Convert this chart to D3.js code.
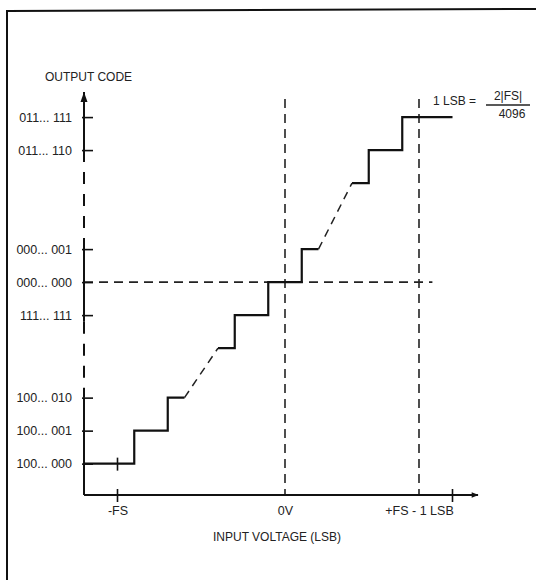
<!DOCTYPE html>
<html>
<head>
<meta charset="utf-8">
<script src="https://cdn.jsdelivr.net/npm/d3@7"></script>
<style>
  body { margin: 0; background: #fff; }
  text { font-family: "Liberation Sans Narrow", "Arial Narrow", "Liberation Sans", sans-serif; fill: #222; }
</style>
</head>
<body>
<div id="chart"></div>
<script>
// output codes on the y axis and their level (in LSB steps, 0 = 000...000)
const codeLabels = ["011... 111", "011... 110", "000... 001", "000... 000", "111... 111", "100... 010", "100... 001", "100... 000"];
const codeLevels = [5, 4, 1, 0, -1, -3.5, -4.5, -5.5];

// input voltage ticks (LSB)
const xTickLabels = ["-FS", "0V", "+FS - 1 LSB"];
const xTickValues = [-5, 0, 4];
const xTickMarks = [-5, 5];

// staircase pieces (transition points, code level after each one)
const lowStepX = [-6, -4.5, -3.5, -3];
const lowStepY = [-5.5, -4.5, -3.5, -3.5];
const midStepX = [-2, -1.5, -0.5, 0.5, 1];
const midStepY = [-2, -1, 0, 1, 1];
const topStepX = [2, 2.5, 3.5, 5];
const topStepY = [3, 4, 5, 5];

const width = 536, height = 580;
const font = '"Liberation Sans Narrow", "Arial Narrow", "Liberation Sans", sans-serif';

const x = d3.scaleLinear().domain([-6, 5]).range([84, 452.5]);
const y = d3.scaleLinear().domain([-6.45, 5.76]).range([495, 92]);

const svg = d3.select("#chart")
  .append("svg")
  .attr("width", width)
  .attr("height", height);

// scanned frame (top + left edge)
svg.append("path")
  .attr("d", "M7,580 L7,11 L536,9")
  .attr("fill", "none")
  .attr("stroke", "#111")
  .attr("stroke-width", 2);

const defs = svg.append("defs");
defs.append("marker")
  .attr("id", "arrow")
  .attr("viewBox", "0 0 10 10")
  .attr("refX", 9).attr("refY", 5)
  .attr("markerWidth", 9).attr("markerHeight", 7)
  .attr("markerUnits", "userSpaceOnUse")
  .attr("orient", "auto")
  .append("path")
  .attr("d", "M0,1 L10,5 L0,9 Z")
  .attr("fill", "#111");

const dash = "9,6";

// guide lines
svg.append("line")
  .attr("x1", x(-6)).attr("x2", x(4.4))
  .attr("y1", y(0)).attr("y2", y(0))
  .attr("stroke", "#222").attr("stroke-width", 1.6).attr("stroke-dasharray", dash);

[0, 4].forEach(v => {
  svg.append("line")
    .attr("x1", x(v)).attr("x2", x(v))
    .attr("y1", y(5.55)).attr("y2", y(-6.45))
    .attr("stroke", "#222").attr("stroke-width", 1.6).attr("stroke-dasharray", dash);
});

// y axis: solid / dashed pieces
const yPieces = [[5.76, 4, false], [4, 1, true], [1, -1.2, false], [-1.2, -3.5, true], [-3.5, -6.45, false]];
yPieces.forEach(([a, b, dashed]) => {
  svg.append("line")
    .attr("x1", x(-6)).attr("x2", x(-6))
    .attr("y1", y(a)).attr("y2", y(b))
    .attr("stroke", "#111").attr("stroke-width", 2)
    .attr("stroke-dasharray", dashed ? "12,10" : null);
});
// y arrow head
svg.append("path")
  .attr("d", `M${x(-6)},${y(5.76)} l-3.5,10 l7,0 Z`)
  .attr("fill", "#111");

// x axis line
svg.append("line")
  .attr("x1", x(-6)).attr("x2", x(5.76))
  .attr("y1", y(-6.45)).attr("y2", y(-6.45))
  .attr("stroke", "#111").attr("stroke-width", 2)
  .attr("marker-end", "url(#arrow)");

// y ticks + labels
const yAxis = d3.axisLeft(y)
  .tickValues(codeLevels)
  .tickFormat((d, i) => codeLabels[i])
  .tickSizeInner(-9)
  .tickSizeOuter(0)
  .tickPadding(12);

const gy = svg.append("g")
  .attr("transform", `translate(${x(-6)},0)`)
  .call(yAxis);
gy.select(".domain").remove();
gy.selectAll(".tick line").attr("stroke", "#111").attr("stroke-width", 1.6).attr("x1", -2);
gy.selectAll(".tick text")
  .attr("font-size", 12.5)
  .attr("fill", "#222")
  .style("font-family", font);

// x labels
const xAxis = d3.axisBottom(x)
  .tickValues(xTickValues)
  .tickFormat((d, i) => xTickLabels[i])
  .tickSize(0)
  .tickPadding(11);

const gx = svg.append("g")
  .attr("transform", `translate(0,${y(-6.45)})`)
  .call(xAxis);
gx.select(".domain").remove();
gx.selectAll(".tick text")
  .attr("font-size", 12.5)
  .attr("fill", "#222")
  .style("font-family", font);

// x tick marks crossing the axis
svg.selectAll(".xmark")
  .data(xTickMarks)
  .join("line")
  .attr("x1", d => x(d)).attr("x2", d => x(d))
  .attr("y1", y(-6.45) - 6).attr("y2", y(-6.45) + 7)
  .attr("stroke", "#111").attr("stroke-width", 1.6);

// marker at -FS on bottom step
svg.append("line")
  .attr("x1", x(-5)).attr("x2", x(-5))
  .attr("y1", y(-5.5) - 6).attr("y2", y(-5.5) + 7)
  .attr("stroke", "#111").attr("stroke-width", 1.6);

// staircase
const stairLine = d3.line()
  .x(d => x(d[0]))
  .y(d => y(d[1]))
  .curve(d3.curveStepAfter);

const pieces = [
  d3.zip(lowStepX, lowStepY),
  d3.zip(midStepX, midStepY),
  d3.zip(topStepX, topStepY)
];

svg.selectAll(".stair")
  .data(pieces)
  .join("path")
  .attr("class", "stair")
  .attr("d", stairLine)
  .attr("fill", "none")
  .attr("stroke", "#111")
  .attr("stroke-width", 2.2);

// dashed connectors between the staircase pieces
const links = [[pieces[0][pieces[0].length - 1], pieces[1][0]], [pieces[1][pieces[1].length - 1], pieces[2][0]]];
svg.selectAll(".link")
  .data(links)
  .join("path")
  .attr("d", d3.line().x(d => x(d[0])).y(d => y(d[1])))
  .attr("fill", "none")
  .attr("stroke", "#222")
  .attr("stroke-width", 1.5)
  .attr("stroke-dasharray", "8,6");

// axis titles
svg.append("text")
  .attr("x", 45).attr("y", 81)
  .attr("font-size", 12)
  .text("OUTPUT CODE");

svg.append("text")
  .attr("x", 277).attr("y", 541)
  .attr("text-anchor", "middle")
  .attr("font-size", 12)
  .text("INPUT VOLTAGE (LSB)");

// LSB annotation
svg.append("text")
  .attr("x", 433).attr("y", 105)
  .attr("font-size", 12)
  .text("1 LSB =");
svg.append("text")
  .attr("x", 508).attr("y", 100)
  .attr("text-anchor", "middle")
  .attr("font-size", 12)
  .text("2|FS|");
svg.append("line")
  .attr("x1", 486).attr("x2", 530)
  .attr("y1", 105).attr("y2", 105)
  .attr("stroke", "#222").attr("stroke-width", 1.3);
svg.append("text")
  .attr("x", 512).attr("y", 118)
  .attr("text-anchor", "middle")
  .attr("font-size", 12)
  .text("4096");
</script>
</body>
</html>
